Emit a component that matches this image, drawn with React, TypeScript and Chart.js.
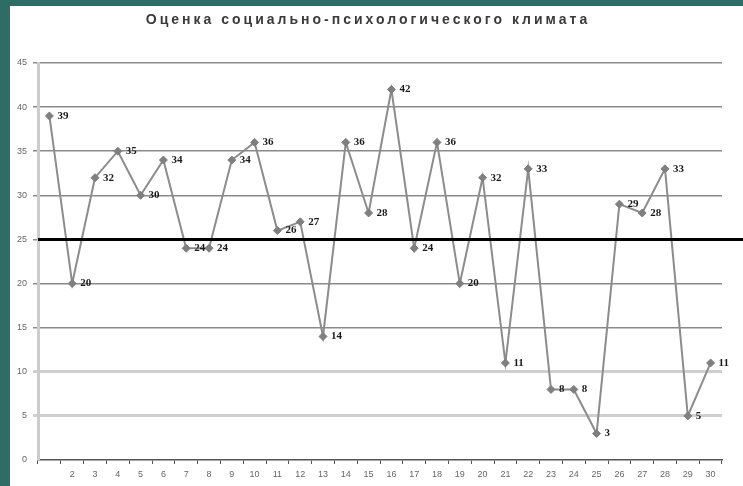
import { useEffect, useRef } from "react";
import { Chart, registerables } from "chart.js";

Chart.register(...registerables);

const chartTitle = "Оценка социально-психологического климата";
const categories = [
  "1", "2", "3", "4", "5", "6", "7", "8", "9", "10",
  "11", "12", "13", "14", "15", "16", "17", "18", "19", "20",
  "21", "22", "23", "24", "25", "26", "27", "28", "29", "30",
];
const xTickLabels = [
  "", "2", "3", "4", "5", "6", "7", "8", "9", "10",
  "11", "12", "13", "14", "15", "16", "17", "18", "19", "20",
  "21", "22", "23", "24", "25", "26", "27", "28", "29", "30",
];
const scores = [
  39, 20, 32, 35, 30, 34, 24, 24, 34, 36,
  26, 27, 14, 36, 28, 42, 24, 36, 20, 32,
  11, 33, 8, 8, 3, 29, 28, 33, 5, 11,
];
const yMin = 0;
const yMax = 45;
const yStep = 5;
const referenceLevel = 25;

export default function App() {
  const canvasRef = useRef<HTMLCanvasElement | null>(null);

  useEffect(() => {
    const canvas = canvasRef.current;
    if (!canvas) return;

    const titlePlugin = {
      id: "customTitle",
      afterDraw(chart: any) {
        const ctx = chart.ctx;
        ctx.save();
        (ctx as any).letterSpacing = "3px";
        ctx.font = "bold 14px Arial, 'Liberation Sans', sans-serif";
        ctx.fillStyle = "#3a3a3a";
        ctx.textAlign = "center";
        ctx.textBaseline = "middle";
        ctx.fillText(chartTitle, 358, 14);
        ctx.restore();
      },
    };

    const refLinePlugin = {
      id: "refLine",
      afterDatasetsDraw(chart: any) {
        const ctx = chart.ctx;
        const y = chart.scales.y.getPixelForValue(referenceLevel);
        ctx.save();
        ctx.strokeStyle = "#000000";
        ctx.lineWidth = 3;
        ctx.beginPath();
        ctx.moveTo(chart.chartArea.left, y);
        ctx.lineTo(chart.width, y);
        ctx.stroke();
        ctx.restore();
      },
    };

    const labelPlugin = {
      id: "pointLabels",
      afterDraw(chart: any) {
        const ctx = chart.ctx;
        const meta = chart.getDatasetMeta(0);
        ctx.save();
        ctx.font = "bold 11px 'Liberation Serif', 'DejaVu Serif', serif";
        ctx.fillStyle = "#1a1a1a";
        ctx.textAlign = "left";
        ctx.textBaseline = "middle";
        meta.data.forEach((pt: any, i: number) => {
          ctx.fillText(String(scores[i]), pt.x + 8, pt.y);
        });
        ctx.restore();
      },
    };

    const chart = new Chart(canvas, {
      type: "line",
      data: {
        labels: categories,
        datasets: [
          {
            data: scores,
            borderColor: "#8c8c8c",
            borderWidth: 2,
            backgroundColor: "#7f7f7f",
            pointStyle: "rectRot",
            pointRadius: 4,
            pointBackgroundColor: "#7f7f7f",
            pointBorderColor: "#7f7f7f",
            pointBorderWidth: 1,
            tension: 0,
          },
        ],
      },
      options: {
        animation: false,
        responsive: false,
        maintainAspectRatio: false,
        layout: { padding: { top: 57, right: 21, left: 0, bottom: 0 } },
        plugins: {
          legend: { display: false },
          title: { display: false },
          tooltip: { enabled: false },
        },
        scales: {
          x: {
            type: "category",
            offset: true,
            grid: {
              display: true,
              drawOnChartArea: false,
              drawTicks: true,
              tickLength: 4,
              color: "#555555",
              offset: true,
            },
            border: { display: true, color: "#555555", width: 1.5 },
            ticks: {
              color: "#666666",
              font: { size: 9, family: "Arial, 'Liberation Sans', sans-serif" },
              padding: 5,
              autoSkip: false,
              maxRotation: 0,
              callback: (_v: any, i: number) => xTickLabels[i],
            },
            afterFit: (scale: any) => {
              scale.height = 26;
            },
          },
          y: {
            min: yMin,
            max: yMax,
            ticks: {
              stepSize: yStep,
              color: "#666666",
              font: { size: 9, family: "Arial, 'Liberation Sans', sans-serif" },
              padding: 6,
            },
            grid: {
              color: (c: any) => {
                const v = c.tick ? c.tick.value : null;
                if (v === 5 || v === 10) return "#cfcfcf";
                if (v === 0) return "rgba(0,0,0,0)";
                return "#8a8a8a";
              },
              lineWidth: (c: any) => {
                const v = c.tick ? c.tick.value : null;
                if (v === 5 || v === 10) return 3;
                return 1.5;
              },
              tickLength: 5,
            },
            border: { display: true, color: "#cccccc", width: 3 },
            afterFit: (scale: any) => {
              scale.width = 28;
            },
          },
        },
      },
      plugins: [refLinePlugin, labelPlugin, titlePlugin],
    });

    return () => {
      chart.destroy();
    };
  }, []);

  return (
    <div
      style={{
        position: "fixed",
        left: 0,
        top: 0,
        width: 743,
        height: 486,
        background: "#2e6d65",
        overflow: "hidden",
      }}
    >
      <div
        style={{
          position: "absolute",
          left: 10,
          top: 6,
          width: 733,
          height: 480,
          background: "#ffffff",
        }}
      >
        <canvas ref={canvasRef} width={733} height={480} style={{ display: "block" }} />
      </div>
    </div>
  );
}
